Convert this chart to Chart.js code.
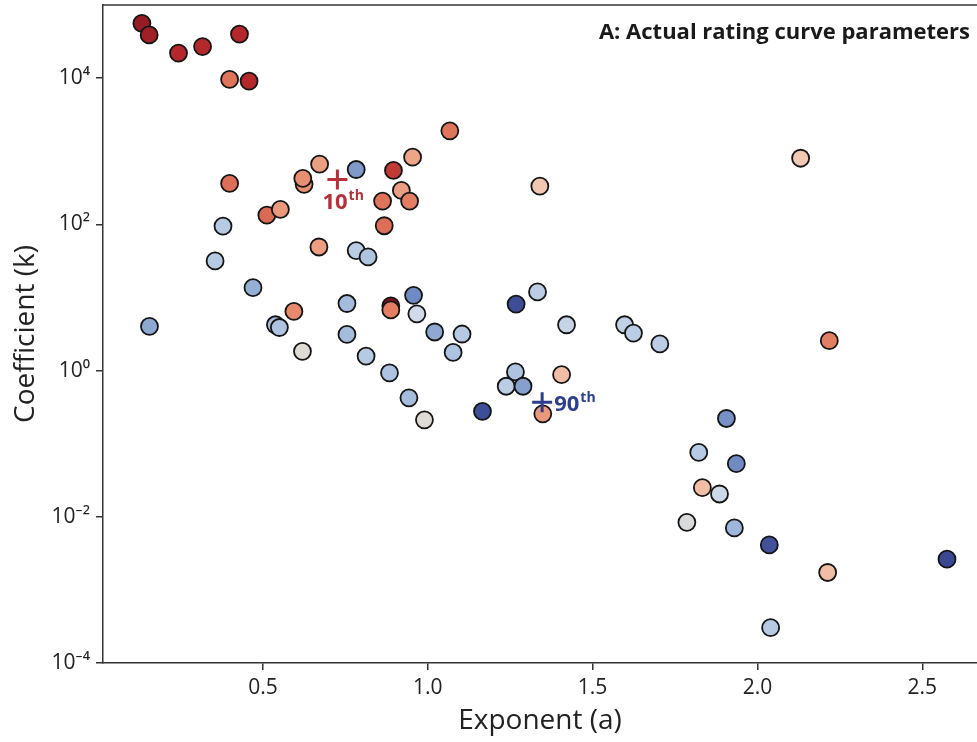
<!DOCTYPE html>
<html>
<head>
<meta charset="utf-8">
<script src="https://cdn.jsdelivr.net/npm/chart.js@4.4.1/dist/chart.umd.min.js"></script>
<style>
  body { margin: 0; background: #fff; }
  #wrap { width: 977px; height: 742px; }
</style>
</head>
<body>
<div id="wrap"><canvas id="ratingChart" width="977" height="742"></canvas></div>
<script>
// rating curve parameters
var exponentA = [0.133, 0.155, 0.244, 0.317, 0.429, 0.399, 0.458, 1.067, 0.672, 0.783,
                 0.896, 0.954, 0.625, 0.621, 0.399, 0.920, 0.863, 0.945, 0.512, 0.553,
                 0.868, 0.379, 0.670, 0.783, 0.819, 0.355, 0.470, 0.755, 0.957, 0.888,
                 0.888, 0.967, 0.594, 0.156, 0.538, 0.550, 0.755, 1.021, 1.104, 0.620,
                 0.813, 1.077, 0.884, 0.943, 0.990, 1.166, 1.340, 2.131, 1.268, 1.333,
                 1.421, 1.597, 1.624, 1.704, 2.218, 1.266, 1.238, 1.289, 1.406, 1.349,
                 1.906, 1.822, 1.936, 1.833, 1.885, 1.786, 1.930, 2.036, 2.575, 2.213,
                 2.040];
var coefficientK = [56000, 39000, 22000, 27000, 40000, 9600, 9100, 1900, 665, 562,
                    546, 828, 352, 425, 363, 291, 208, 208, 134, 160,
                    95.7, 94.8, 49, 43.7, 35.8, 31.6, 13.6, 8.26, 10.7, 7.67,
                    6.76, 5.97, 6.43, 4.01, 4.23, 3.88, 3.12, 3.37, 3.16, 1.83,
                    1.58, 1.77, 0.93, 0.423, 0.212, 0.277, 333, 802, 8.11, 11.9,
                    4.23, 4.23, 3.26, 2.31, 2.56, 0.957, 0.61, 0.61, 0.879, 0.256,
                    0.221, 0.0759, 0.0532, 0.025, 0.0205, 0.0084, 0.00703, 0.00412, 0.00263, 0.00173,
                    0.000304];
// position on the red (0) -> blue (1) colour scale
var shade = [0.04, 0.06, 0.10, 0.10, 0.10, 0.28, 0.10, 0.28, 0.36, 0.80,
             0.15, 0.37, 0.33, 0.33, 0.27, 0.36, 0.28, 0.30, 0.26, 0.35,
             0.27, 0.66, 0.36, 0.64, 0.68, 0.66, 0.74, 0.70, 0.84, 0.00,
             0.30, 0.56, 0.32, 0.76, 0.70, 0.68, 0.70, 0.76, 0.66, 0.50,
             0.66, 0.68, 0.68, 0.70, 0.50, 0.97, 0.44, 0.44, 0.97, 0.64,
             0.60, 0.62, 0.64, 0.64, 0.30, 0.68, 0.64, 0.78, 0.42, 0.35,
             0.82, 0.66, 0.84, 0.42, 0.57, 0.52, 0.72, 0.96, 0.98, 0.42,
             0.66];

var pctNames = ['10', '90'];
var pctA = [0.726, 1.347];
var pctK = [411, 0.368];

var xTicks = [0.5, 1.0, 1.5, 2.0, 2.5];
var yTicks = [1e-4, 1e-2, 1, 1e2, 1e4];

// diverging colour ramp
var ramp = [
  [0.00, [128, 20, 32]],
  [0.10, [180, 40, 44]],
  [0.20, [207, 76, 64]],
  [0.30, [227, 126, 98]],
  [0.40, [242, 180, 151]],
  [0.46, [240, 210, 192]],
  [0.50, [222, 218, 212]],
  [0.56, [208, 218, 232]],
  [0.66, [182, 202, 227]],
  [0.76, [142, 168, 210]],
  [0.86, [104, 130, 192]],
  [1.00, [50, 62, 140]]
];

function rampColor(t) {
  for (var i = 1; i < ramp.length; i++) {
    if (t <= ramp[i][0]) {
      var a = ramp[i - 1], b = ramp[i];
      var f = (t - a[0]) / (b[0] - a[0]);
      var c = a[1].map(function (v, j) { return Math.round(v + (b[1][j] - v) * f); });
      return 'rgb(' + c.join(',') + ')';
    }
  }
  return 'rgb(' + ramp[ramp.length - 1][1].join(',') + ')';
}

function supText(n) {
  var map = {'-': '\u207B', '0': '\u2070', '1': '\u00B9', '2': '\u00B2', '3': '\u00B3', '4': '\u2074'};
  return String(n).split('').map(function (c) { return map[c]; }).join('');
}

var points = exponentA.map(function (a, i) { return {x: a, y: coefficientK[i]}; });
var pctPoints = pctA.map(function (a, i) { return {x: a, y: pctK[i]}; });

var fontFam = '"Open Sans", "Noto Sans", sans-serif';
var axisCol = '#333';

var extras = {
  id: 'extras',
  afterDraw: function (chart) {
    var c = chart.ctx, area = chart.chartArea;
    var xs = chart.scales.x, ys = chart.scales.y;
    c.save();
    // top frame line
    c.strokeStyle = axisCol;
    c.lineWidth = 1.5;
    c.beginPath();
    c.moveTo(area.left, area.top);
    c.lineTo(area.right, area.top);
    c.stroke();

    // panel title
    c.fillStyle = '#1a1a1a';
    c.font = 'bold 22px ' + fontFam;
    c.textAlign = 'right';
    c.textBaseline = 'middle';
    c.fillText('A: Actual rating curve parameters', 970, 33);

    // percentile labels
    var px0 = xs.getPixelForValue(pctA[0]), py0 = ys.getPixelForValue(pctK[0]);
    c.fillStyle = '#b5303a';
    c.textAlign = 'left';
    c.textBaseline = 'alphabetic';
    c.font = 'bold 22px ' + fontFam;
    c.fillText(pctNames[0], px0 - 15, py0 + 30);
    var w0 = c.measureText(pctNames[0]).width;
    c.font = 'bold 14px ' + fontFam;
    c.fillText('th', px0 - 15 + w0 + 1, py0 + 21);

    var px1 = xs.getPixelForValue(pctA[1]), py1 = ys.getPixelForValue(pctK[1]);
    c.fillStyle = '#2b3f8e';
    c.font = 'bold 22px ' + fontFam;
    c.fillText(pctNames[1], px1 + 12, py1 + 9);
    var w1 = c.measureText(pctNames[1]).width;
    c.font = 'bold 14px ' + fontFam;
    c.fillText('th', px1 + 12 + w1 + 1, py1);
    c.restore();
  }
};

var ctx = document.getElementById('ratingChart').getContext('2d');
var myChart = new Chart(ctx, {
  type: 'scatter',
  data: {
    datasets: [{
      label: 'percentiles',
      data: pctPoints,
      pointStyle: 'cross',
      pointRadius: 10,
      borderWidth: 3,
      borderColor: ['#b5303a', '#2b3f8e'],
      order: 0
    }, {
      label: 'sites',
      data: points,
      pointRadius: 8.5,
      borderWidth: 1.8,
      borderColor: '#151515',
      backgroundColor: shade.map(rampColor),
      order: 1
    }]
  },
  options: {
    responsive: false,
    animation: false,
    layout: { autoPadding: false, padding: { top: 5, right: 0, left: 0, bottom: 0 } },
    plugins: {
      legend: { display: false },
      tooltip: { enabled: false }
    },
    scales: {
      x: {
        type: 'linear',
        min: 0.015,
        max: 2.666,
        afterBuildTicks: function (s) { s.ticks = xTicks.map(function (v) { return {value: v}; }); },
        afterFit: function (s) { s.height = 79; s.paddingLeft = 0; s.paddingRight = 0; },
        ticks: {
          color: '#222',
          font: { family: fontFam, size: 21 },
          padding: 5,
          maxRotation: 0,
          callback: function (v) { return v.toFixed(1); }
        },
        grid: { drawOnChartArea: false, drawTicks: true, tickLength: 7, color: axisCol, lineWidth: 1.5 },
        border: { color: axisCol, width: 1.5 },
        title: {
          display: true,
          text: 'Exponent (a)',
          color: '#222',
          font: { family: fontFam, size: 28 },
          padding: { top: 0, bottom: 4 }
        }
      },
      y: {
        type: 'logarithmic',
        min: 1e-4,
        max: 1e5,
        afterBuildTicks: function (s) { s.ticks = yTicks.map(function (v) { return {value: v}; }); },
        afterFit: function (s) { s.width = 103; s.paddingTop = 0; s.paddingBottom = 0; },
        ticks: {
          color: '#222',
          font: { family: fontFam, size: 21 },
          padding: 6,
          callback: function (v) { return '10' + supText(Math.round(Math.log10(v))); }
        },
        grid: { drawOnChartArea: false, drawTicks: true, tickLength: 7, color: axisCol, lineWidth: 1.5 },
        border: { color: axisCol, width: 1.5 },
        title: {
          display: true,
          text: 'Coefficient (k)',
          color: '#222',
          font: { family: fontFam, size: 28 },
          padding: { top: 9, bottom: 0 }
        }
      }
    }
  },
  plugins: [extras]
});
</script>
</body>
</html>
